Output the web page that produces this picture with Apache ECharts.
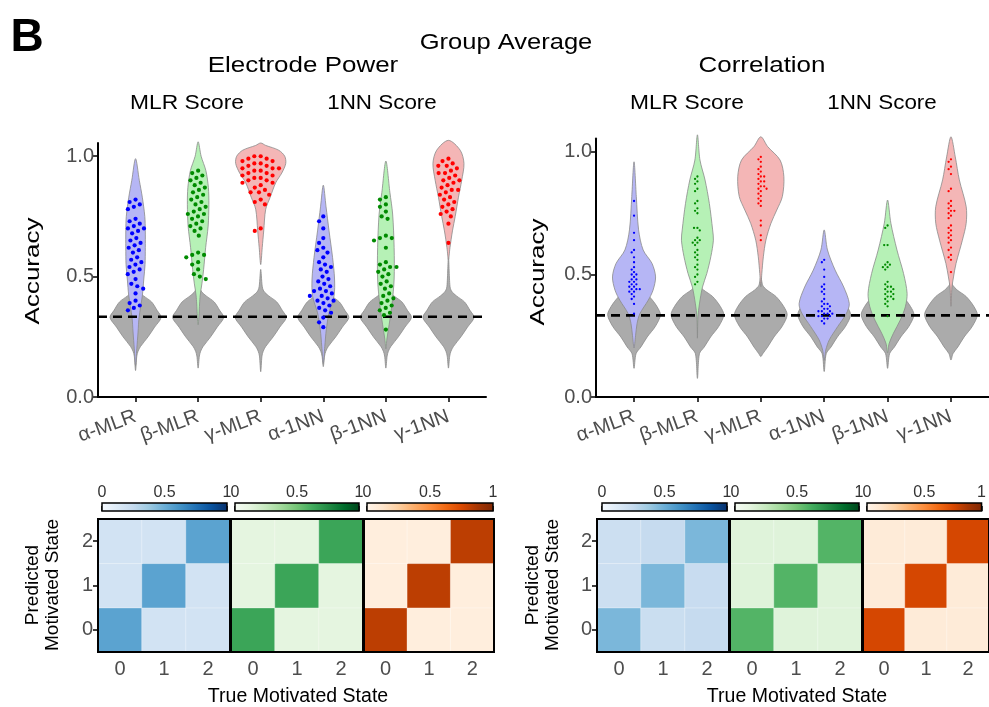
<!DOCTYPE html>
<html><head><meta charset="utf-8">
<script src="https://cdn.jsdelivr.net/npm/echarts@6/dist/echarts.min.js"></script>
<style>html,body{margin:0;padding:0;background:#fff}#c{width:989px;height:707px}</style>
</head><body><div id="c"></div>
<script>
// ---------------- DATA ----------------
const categories = ['α-MLR','β-MLR','γ-MLR','α-1NN','β-1NN','γ-1NN'];
const yTicks = [0, 0.5, 1];
const chanceLevel = 1/3;

// Electrode Power: subject accuracies (dots)
const epAlphaMLR = [0.82,0.81,0.80,0.79,0.78,0.74,0.73,0.72,0.71,0.70,0.70,0.69,0.68,0.66,0.65,0.64,0.63,0.62,0.61,0.60,0.58,0.57,0.56,0.55,0.54,0.53,0.52,0.51,0.49,0.47,0.46,0.45,0.43,0.40,0.39,0.38,0.37,0.36];
const epBetaMLR  = [0.94,0.93,0.92,0.91,0.90,0.89,0.88,0.87,0.86,0.85,0.84,0.83,0.82,0.81,0.80,0.79,0.78,0.77,0.76,0.76,0.75,0.74,0.73,0.72,0.71,0.70,0.69,0.67,0.60,0.59,0.59,0.58,0.56,0.55,0.53,0.51,0.50,0.49];
const epGammaMLR = [1.00,1.00,0.99,0.99,0.98,0.98,0.97,0.97,0.96,0.96,0.95,0.95,0.95,0.94,0.94,0.93,0.93,0.92,0.92,0.91,0.91,0.90,0.90,0.89,0.89,0.88,0.87,0.86,0.85,0.85,0.84,0.82,0.81,0.80,0.70,0.69];
const epAlpha1NN = [0.75,0.73,0.70,0.66,0.64,0.62,0.61,0.60,0.58,0.56,0.55,0.54,0.53,0.52,0.50,0.49,0.48,0.47,0.46,0.45,0.44,0.44,0.43,0.42,0.42,0.41,0.40,0.40,0.39,0.38,0.37,0.36,0.35,0.33,0.31,0.29];
const epBeta1NN  = [0.83,0.82,0.80,0.79,0.77,0.75,0.74,0.67,0.66,0.66,0.65,0.62,0.56,0.55,0.54,0.54,0.53,0.52,0.51,0.50,0.48,0.47,0.46,0.45,0.43,0.42,0.41,0.40,0.39,0.38,0.37,0.36,0.35,0.34,0.28];
const epGamma1NN = [0.99,0.98,0.97,0.96,0.96,0.95,0.94,0.93,0.93,0.92,0.91,0.90,0.90,0.89,0.88,0.87,0.86,0.86,0.85,0.84,0.83,0.82,0.81,0.80,0.79,0.78,0.77,0.76,0.75,0.72,0.64];

// Correlation: subject accuracies (dots)
const coAlphaMLR = [0.80,0.74,0.67,0.64,0.60,0.59,0.57,0.55,0.53,0.52,0.51,0.50,0.50,0.49,0.48,0.48,0.47,0.47,0.46,0.46,0.45,0.45,0.44,0.44,0.44,0.43,0.43,0.42,0.41,0.40,0.38,0.34];
const coBetaMLR  = [0.90,0.89,0.88,0.87,0.85,0.84,0.80,0.79,0.77,0.76,0.75,0.69,0.69,0.68,0.65,0.64,0.64,0.63,0.63,0.62,0.60,0.59,0.58,0.57,0.56,0.54,0.53,0.52,0.50,0.49,0.47,0.46];
const coGammaMLR = [0.98,0.97,0.96,0.94,0.93,0.92,0.91,0.90,0.90,0.89,0.88,0.88,0.87,0.86,0.86,0.85,0.85,0.84,0.83,0.82,0.81,0.80,0.79,0.78,0.72,0.70,0.66,0.64];
const coAlpha1NN = [0.56,0.55,0.52,0.49,0.46,0.45,0.44,0.43,0.42,0.40,0.39,0.38,0.38,0.37,0.37,0.36,0.36,0.35,0.35,0.35,0.34,0.34,0.34,0.33,0.33,0.33,0.32,0.32,0.31,0.30];
const coBeta1NN  = [0.70,0.69,0.62,0.62,0.55,0.54,0.54,0.53,0.53,0.52,0.47,0.46,0.45,0.45,0.44,0.44,0.43,0.43,0.42,0.42,0.41,0.41,0.40,0.40,0.39,0.38,0.37,0.33];
const coGamma1NN = [0.97,0.96,0.94,0.93,0.91,0.85,0.84,0.80,0.79,0.78,0.77,0.76,0.76,0.75,0.74,0.73,0.70,0.69,0.68,0.67,0.66,0.65,0.64,0.63,0.61,0.60,0.58,0.57,0.56,0.51];

// violin density profiles [accuracy, relative density]
const epDensAlphaMLR = [[0.13,0],[0.20,0.05],[0.27,0.10],[0.33,0.14],[0.42,0.27],[0.49,0.33],[0.55,0.38],[0.62,0.39],[0.69,0.39],[0.75,0.37],[0.83,0.27],[0.90,0.15],[0.99,0]];
const epDensBetaMLR  = [[0.30,0],[0.42,0.08],[0.47,0.15],[0.53,0.22],[0.62,0.30],[0.71,0.40],[0.80,0.43],[0.87,0.41],[0.94,0.31],[1.00,0.12],[1.06,0]];
const epDensGammaMLR = [[0.55,0],[0.62,0.06],[0.69,0.12],[0.78,0.20],[0.83,0.38],[0.89,0.60],[0.93,0.84],[0.97,1.00],[1.00,0.96],[1.025,0.72],[1.045,0.20],[1.055,0]];
const epDensAlpha1NN = [[0.14,0],[0.21,0.06],[0.28,0.12],[0.35,0.23],[0.42,0.43],[0.49,0.45],[0.58,0.37],[0.69,0.23],[0.79,0.11],[0.88,0]];
const epDensBeta1NN  = [[0.20,0],[0.24,0.04],[0.30,0.13],[0.39,0.25],[0.49,0.33],[0.62,0.33],[0.76,0.27],[0.85,0.16],[0.98,0]];
const epDensGamma1NN = [[0.57,0],[0.62,0.06],[0.69,0.16],[0.75,0.27],[0.83,0.40],[0.90,0.53],[0.97,0.62],[1.025,0.47],[1.066,0]];

const coDensAlphaMLR = [[0.20,0],[0.25,0.06],[0.30,0.12],[0.34,0.23],[0.395,0.56],[0.436,0.75],[0.49,0.85],[0.545,0.71],[0.60,0.36],[0.682,0.18],[0.818,0.09],[0.96,0]];
const coDensBetaMLR  = [[0.24,0],[0.327,0.02],[0.38,0.08],[0.449,0.20],[0.504,0.37],[0.573,0.53],[0.64,0.63],[0.682,0.60],[0.79,0.47],[0.886,0.30],[0.967,0.10],[1.07,0]];
const coDensGammaMLR = [[0.45,0],[0.504,0.04],[0.572,0.10],[0.64,0.20],[0.709,0.40],[0.763,0.63],[0.818,0.85],[0.899,0.91],[0.967,0.76],[1.022,0.27],[1.062,0]];
const coDensAlpha1NN = [[0.15,0],[0.191,0.06],[0.233,0.20],[0.287,0.53],[0.34,0.87],[0.381,0.99],[0.449,0.77],[0.518,0.43],[0.60,0.13],[0.682,0]];
const coDensBeta1NN  = [[0.18,0],[0.218,0.06],[0.26,0.23],[0.314,0.50],[0.368,0.70],[0.423,0.77],[0.504,0.63],[0.60,0.37],[0.709,0.13],[0.804,0]];
const coDensGamma1NN = [[0.37,0],[0.449,0.04],[0.49,0.10],[0.545,0.20],[0.64,0.45],[0.709,0.60],[0.777,0.60],[0.886,0.33],[0.98,0.17],[1.062,0]];

// null (chance) distributions: shared core + per-violin tail extents
const epNullCore = [[0.17,0.05],[0.19,0.10],[0.21,0.20],[0.25,0.50],[0.29,0.76],[0.33,1.02],[0.36,0.86],[0.395,0.64],[0.42,0.32],[0.44,0.12],[0.46,0.06]];
const epNullLow  = [0.11,0.12,0.105,0.126,0.12,0.12];
const epNullHigh = [0.50,0.50,0.53,0.50,0.50,0.58];
const coNullCore = [[0.177,0.08],[0.204,0.27],[0.245,0.52],[0.288,0.84],[0.335,1.04],[0.37,0.90],[0.41,0.60],[0.437,0.24],[0.455,0.08]];
const coNullLow  = [0.117,0.076,0.165,0.104,0.117,0.151];
const coNullHigh = [0.48,0.48,0.49,0.48,0.48,0.47];

// confusion matrices [predicted][true]
const epBlues   = [[0.55,0.19,0.19],[0.19,0.55,0.19],[0.19,0.19,0.55]];
const epGreens  = [[0.65,0.125,0.125],[0.125,0.65,0.125],[0.125,0.125,0.65]];
const epOranges = [[0.82,0.06,0.06],[0.06,0.82,0.06],[0.06,0.06,0.82]];
const coBlues   = [[0.46,0.23,0.25],[0.22,0.46,0.24],[0.22,0.25,0.46]];
const coGreens  = [[0.58,0.15,0.15],[0.15,0.58,0.15],[0.15,0.15,0.58]];
const coOranges = [[0.76,0.08,0.08],[0.08,0.76,0.08],[0.08,0.08,0.76]];
const stateLabels = ['0','1','2'];
const colorbarTicks = [0, 0.5, 1];

// ---------------- STYLE ----------------
const FONT = 'Liberation Sans, Arial, Helvetica, sans-serif';
const BLUES = ['#f7fbff','#deebf7','#c6dbef','#9ecae1','#6baed6','#4292c6','#2171b5','#08519c','#08306b'];
const GREENS = ['#f7fcf5','#e5f5e0','#c7e9c0','#a1d99b','#74c476','#41ab5d','#238b45','#006d2c','#00441b'];
const ORANGES = ['#fff5eb','#fee6ce','#fdd0a2','#fdae6b','#fd8d3c','#f16913','#d94801','#a63603','#7f2704'];
const violinFill = ['#B6B6F5','#B6F1B6','#F4B6B6','#B6B6F5','#B6F1B6','#F4B6B6'];
const dotColor = ['#0000FF','#008B00','#FF0000','#0000FF','#008B00','#FF0000'];
const GREY_FILL = '#ABABAB', OUTLINE = '#8A8A8A', TICK_COL = '#4D4D4D';

const epDots = [epAlphaMLR, epBetaMLR, epGammaMLR, epAlpha1NN, epBeta1NN, epGamma1NN];
const coDots = [coAlphaMLR, coBetaMLR, coGammaMLR, coAlpha1NN, coBeta1NN, coGamma1NN];
const epDens = [epDensAlphaMLR, epDensBetaMLR, epDensGammaMLR, epDensAlpha1NN, epDensBeta1NN, epDensGamma1NN];
const coDens = [coDensAlphaMLR, coDensBetaMLR, coDensGammaMLR, coDensAlpha1NN, coDensBeta1NN, coDensGamma1NN];
const nullProfiles = (core, lo, hi) => lo.map((l, i) => [[l, 0]].concat(core, [[hi[i], 0]]));
const epNull = nullProfiles(epNullCore, epNullLow, epNullHigh);
const coNull = nullProfiles(coNullCore, coNullLow, coNullHigh);

// ---------------- HELPERS ----------------
function swarm(ys, d) {
  const order = ys.map((y, i) => i).sort((a, b) => ys[a] - ys[b]);
  const placed = [], out = new Array(ys.length);
  for (const i of order) {
    const y = ys[i], iv = [];
    for (const q of placed) {
      const dy = Math.abs(q.y - y);
      if (dy < d) { const w = Math.sqrt(d * d - dy * dy); iv.push([q.x - w, q.x + w]); }
    }
    const cands = [0];
    iv.forEach(r => cands.push(r[0], r[1]));
    cands.sort((a, b) => Math.abs(a) - Math.abs(b));
    let x = 0;
    for (const c of cands) {
      if (iv.every(r => c <= r[0] + 1e-6 || c >= r[1] - 1e-6)) { x = c; break; }
    }
    placed.push({x, y}); out[i] = x;
  }
  return out;
}

function violinSeries(g, profiles, fills, z) {
  return {
    type: 'custom', xAxisIndex: g, yAxisIndex: g, z: z, silent: true, clip: false,
    data: profiles.map((p, i) => [i + 1, 0.5]),
    encode: {x: 0, y: 1},
    renderItem: (params, api) => {
      const i = params.dataIndex;
      const band = api.size([1, 0])[0];
      const k = 0.4 * band;
      const right = [], left = [];
      profiles[i].forEach(([v, d]) => {
        const p = api.coord([i + 1, v]);
        right.push([p[0] + d * k, p[1]]);
        left.push([p[0] - d * k, p[1]]);
      });
      left.reverse();
      const pts = right.concat(left.slice(1, -1));
      return {type: 'polygon', shape: {points: pts, smooth: 0.3},
        style: {fill: Array.isArray(fills) ? fills[i] : fills, stroke: OUTLINE, lineWidth: 0.8}};
    }
  };
}

function dotSeries(g, dots, sep, r, z) {
  return {
    type: 'custom', xAxisIndex: g, yAxisIndex: g, z: z, silent: true, clip: false,
    data: dots.map((p, i) => [i + 1, 0.5]),
    encode: {x: 0, y: 1},
    renderItem: (params, api) => {
      const i = params.dataIndex;
      const pts = dots[i].map(v => api.coord([i + 1, v]));
      const offs = swarm(pts.map(p => p[1]), sep);
      return {type: 'group', children: pts.map((p, j) => ({
        type: 'circle', shape: {cx: p[0] + offs[j], cy: p[1], r: r},
        style: {fill: dotColor[i]}}))};
    }
  };
}

// ---------------- LAYOUT ----------------
const grids = [], xAxes = [], yAxes = [], series = [], visualMaps = [];

function violinPanel(left, top, width, height) {
  const g = grids.length;
  grids.push({left, top, width, height});
  xAxes.push({gridIndex: g, type: 'value', min: 0.4, max: 6.6,
    axisLine: {onZero: false, lineStyle: {color: '#000', width: 2}},
    axisTick: {customValues: [1,2,3,4,5,6], length: 5, lineStyle: {color: '#000', width: 1.5}},
    axisLabel: {customValues: [1,2,3,4,5,6], formatter: v => categories[Math.round(v) - 1],
      rotate: 20, fontSize: 20, color: TICK_COL, fontFamily: FONT, margin: 19},
    splitLine: {show: false}});
  yAxes.push({gridIndex: g, type: 'value', min: 0, max: 1.055,
    axisLine: {show: true, onZero: false, lineStyle: {color: '#000', width: 2}},
    axisTick: {show: true, customValues: yTicks, length: 5, lineStyle: {color: '#000', width: 1.5}},
    axisLabel: {customValues: yTicks, formatter: v => v.toFixed(1), fontSize: 20, color: TICK_COL, fontFamily: FONT, margin: 4},
    splitLine: {show: false}});
  return g;
}

const gEP = violinPanel(98, 143, 388, 254);
const gCO = violinPanel(596, 138.5, 393, 258.5);

[[gEP, epNull, epDens, epDots, 6.4, 2.1], [gCO, coNull, coDens, coDots, 3.4, 1.15]].forEach(([g, nul, dens, dots, sep, r]) => {
  series.push(violinSeries(g, nul, GREY_FILL, 2));
  series.push(violinSeries(g, dens, violinFill, 3));
  series.push({type: 'line', xAxisIndex: g, yAxisIndex: g, z: 4, silent: true, symbol: 'none',
    data: [[0.4, chanceLevel], [6.6, chanceLevel]],
    lineStyle: {color: '#000', width: 2.6, type: [9, 6]}});
  series.push(dotSeries(g, dots, sep, r, 5));
});

const cmapSeries = {blues: [], greens: [], oranges: []};

function heatmapBlock(lefts, widths, top, height, mats, cbLefts, cbWidths) {
  const cmaps = [['blues', BLUES], ['greens', GREENS], ['oranges', ORANGES]];
  mats.forEach((M, h) => {
    const g = grids.length;
    grids.push({left: lefts[h], top, width: widths[h], height});
    xAxes.push({gridIndex: g, type: 'category', data: stateLabels,
      axisLine: {show: false},
      axisTick: {alignWithLabel: true, length: 5, lineStyle: {color: '#000', width: 1.5}},
      axisLabel: {fontSize: 20, color: TICK_COL, fontFamily: FONT, margin: 7}});
    yAxes.push({gridIndex: g, type: 'category', data: stateLabels,
      axisLine: {show: false},
      axisTick: {show: h === 0, alignWithLabel: true, length: 5, lineStyle: {color: '#000', width: 1.5}},
      axisLabel: {show: h === 0, fontSize: 20, color: TICK_COL, fontFamily: FONT, margin: 5}});
    const data = [];
    for (let p = 0; p < 3; p++) for (let t = 0; t < 3; t++) data.push([t, p, M[p][t]]);
    cmapSeries[cmaps[h][0]].push(series.length);
    series.push({type: 'heatmap', xAxisIndex: g, yAxisIndex: g, data, silent: true, z: 2,
      itemStyle: {borderColor: 'rgba(255,255,255,0.35)', borderWidth: 1}});
    series.push({type: 'custom', xAxisIndex: g, yAxisIndex: g, z: 6, silent: true, data: [[0, 0]],
      renderItem: (params) => {
        const cs = params.coordSys;
        return {type: 'rect', shape: {x: cs.x, y: cs.y, width: cs.width, height: cs.height},
          style: {fill: 'none', stroke: '#000', lineWidth: 2}};
      }});
    // colorbar
    const c = grids.length;
    const stops = cmaps[h][1];
    grids.push({left: cbLefts[h], top: top - 16, width: cbWidths[h], height: 8});
    xAxes.push({gridIndex: c, type: 'value', min: 0, max: 1, position: 'top',
      axisLine: {show: false},
      axisTick: {customValues: colorbarTicks, length: 5, lineStyle: {color: '#000', width: 1.5}},
      axisLabel: {customValues: colorbarTicks, formatter: v => (v === 0.5 ? '0.5' : String(v)),
        fontSize: 16, color: '#333', fontFamily: FONT, margin: 2},
      splitLine: {show: false}});
    yAxes.push({gridIndex: c, type: 'value', min: 0, max: 1, show: false});
    series.push({type: 'custom', xAxisIndex: c, yAxisIndex: c, z: 3, silent: true, data: [[0.5, 0.5]],
      renderItem: (params) => {
        const cs = params.coordSys;
        return {type: 'rect', shape: {x: cs.x, y: cs.y, width: cs.width, height: cs.height},
          style: {fill: new echarts.graphic.LinearGradient(0, 0, 1, 0,
            stops.map((col, i) => ({offset: i / (stops.length - 1), color: col}))),
            stroke: '#000', lineWidth: 1.5}};
      }});
  });
}

heatmapBlock([98, 231, 364], [132, 132, 130], 519, 133, [epBlues, epGreens, epOranges],
  [102, 235, 367], [125, 124, 126]);
heatmapBlock([597, 730, 863], [132, 132, 132], 519, 133, [coBlues, coGreens, coOranges],
  [602, 735, 867], [125, 124, 126]);

[['blues', BLUES], ['greens', GREENS], ['oranges', ORANGES]].forEach(([k, stops]) => {
  visualMaps.push({type: 'continuous', show: false, min: 0, max: 1, seriesIndex: cmapSeries[k],
    inRange: {color: stops}});
});

function txt(x, y, text, size, opts, sx) {
  return {type: 'text', x, y, silent: true, scaleX: sx || 1,
    style: Object.assign({text, fontSize: size, fontFamily: FONT, fill: '#000', align: 'center', verticalAlign: 'middle'}, opts || {})};
}
function vtxt(x, y, text, size, opts, sx) {
  const t = txt(x, y, text, size, opts, sx);
  t.rotation = Math.PI / 2;
  return t;
}

const graphics = [
  txt(27, 38, 'B', 46, {fontWeight: 'bold'}),
  txt(506, 43, 'Group Average', 22, null, 1.16),
  txt(303, 66, 'Electrode Power', 22, null, 1.18),
  txt(762, 66, 'Correlation', 22, null, 1.18),
  txt(187, 103, 'MLR Score', 20, null, 1.14),
  txt(382, 103, '1NN Score', 20, null, 1.12),
  txt(687, 103, 'MLR Score', 20, null, 1.14),
  txt(882, 103, '1NN Score', 20, null, 1.12),
  vtxt(33, 271, 'Accuracy', 20, null, 1.3),
  vtxt(538, 272, 'Accuracy', 20, null, 1.3),
  vtxt(43, 585, 'Predicted\nMotivated State', 19, {lineHeight: 20}),
  vtxt(543, 585, 'Predicted\nMotivated State', 19, {lineHeight: 20}),
  txt(298, 697, 'True Motivated State', 19.5),
  txt(797, 697, 'True Motivated State', 19.5)
];

const chart = echarts.init(document.getElementById('c'), null, {renderer: 'canvas'});
chart.setOption({
  animation: false,
  backgroundColor: '#fff',
  grid: grids, xAxis: xAxes, yAxis: yAxes,
  visualMap: visualMaps,
  series: series,
  graphic: graphics
});
</script></body></html>
